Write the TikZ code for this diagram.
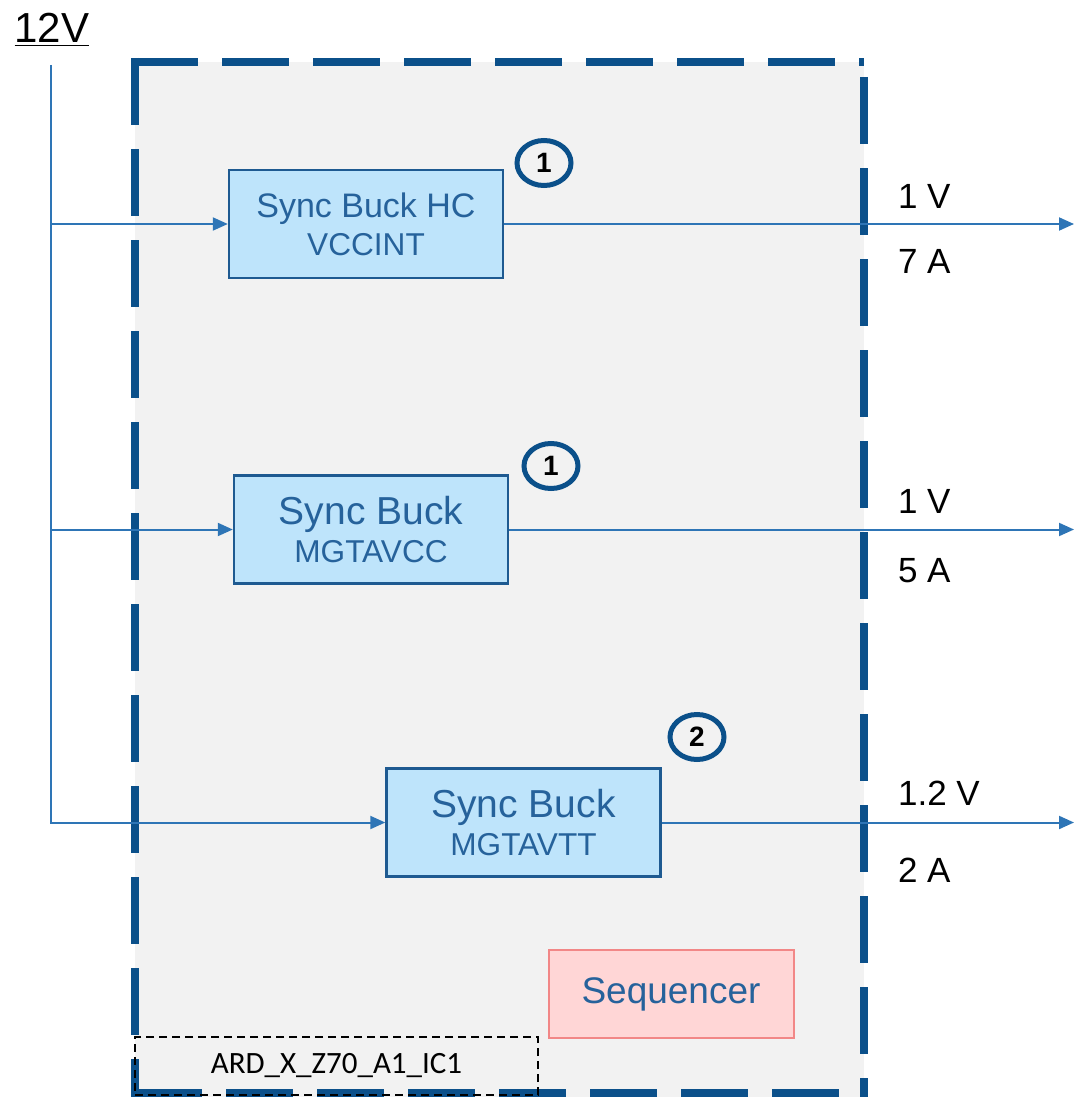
\documentclass[tikz,border=0pt]{standalone}
\usepackage{fontspec}
\setmainfont{Liberation Sans}
\newfontfamily\calibrifont{Carlito}
\usepackage{tikz}
\usetikzlibrary{positioning, shapes.geometric, arrows.meta, calc}

\definecolor{frameblue}{RGB}{11,80,138}
\definecolor{wireblue}{RGB}{46,117,182}
\definecolor{boxfill}{RGB}{190,228,251}
\definecolor{boxline}{RGB}{30,90,145}
\definecolor{boxtext}{RGB}{38,98,155}
\definecolor{seqfill}{RGB}{255,214,214}
\definecolor{seqline}{RGB}{242,135,135}
\definecolor{panelgray}{RGB}{242,242,242}

\tikzset{
  icframe/.style={frameblue, line width=4.2pt, dash pattern=on 33.5pt off 12pt},
  wire/.style={wireblue, line width=1pt},
  feed/.style={wire, -{Triangle[length=7.5pt,width=6.5pt]}},
  buck/.style={draw=boxline, fill=boxfill, line width=1.2pt, minimum width=137pt, minimum height=54pt,
    align=center, text=boxtext, inner sep=0pt, font=\fontsize{15.8}{19}\selectfont},
  badge/.style={ellipse, draw=frameblue, line width=2.5pt, minimum width=27pt, minimum height=22.5pt,
    inner sep=0pt, font=\fontsize{14}{16}\selectfont\bfseries},
  rail/.style={anchor=base west, font=\fontsize{17.5}{20}\selectfont},
}

\begin{document}
\begin{tikzpicture}[x=0.5pt, y=-0.5pt]
  \useasboundingbox (0,0) rectangle (1076,1097);

  % IC outline
  \fill[panelgray] (135,62) rectangle (864,1097);
  \draw[icframe] (135,58) -- (135,1097);
  \draw[icframe] (131,62) -- (864,62);
  \draw[icframe, dash phase=38pt] (864,62) -- (864,1097);
  \draw[icframe] (135,1093) -- (868,1093);

  % input rail
  \node[anchor=base] (vin) at (52,43) {\fontsize{21}{24}\selectfont\underline{12V}};
  \coordinate (bustop) at (51,65);
  \coordinate (rightedge) at (1074,0);

  % converters
  \node[buck] (hc) at (366,224) {\fontsize{17}{19}\selectfont Sync Buck HC\\VCCINT};
  \node[buck] (avcc) at (371,529.5) {{\fontsize{19.5}{19}\selectfont Sync Buck}\\MGTAVCC};
  \node[buck] (avtt) at (523.5,822.5) {{\fontsize{19.5}{19}\selectfont Sync Buck}\\MGTAVTT};

  \node[badge] (n1) at (544,163) {1};
  \node[badge] (n2) at (551,466) {1};
  \node[badge] (n3) at (697,737) {2};

  \node[draw=seqline, fill=seqfill, line width=1pt, minimum width=122.5pt, minimum height=44pt,
    text=boxtext, font=\fontsize{18.5}{20}\selectfont] (seq) at (671,994) {Sequencer};

  \node[draw=black, dash pattern=on 4pt off 2.5pt, line width=1pt, minimum width=201.5pt, minimum height=29pt,
    font=\calibrifont\fontsize{15.5}{18}\selectfont] (ard) at (336.5,1066) {ARD\_X\_Z70\_A1\_IC1};

  % feeds from 12V
  \draw[feed] (bustop) |- (avtt.west);
  \draw[feed] (bustop |- hc.west) -- (hc.west);
  \draw[feed] (bustop |- avcc.west) -- (avcc.west);

  % outputs
  \foreach \src/\vout/\iout/\vy/\iy in {hc/1 V/7 A/208/273, avcc/1 V/5 A/513/582, avtt/1.2 V/2 A/805/882} {
    \draw[feed] (\src.east) -- (\src.east -| rightedge);
    \node[rail] (\src-v) at (891,\vy) {\vout};
    \node[rail] (\src-a) at (891,\iy) {\iout};
  }
\end{tikzpicture}
\end{document}
